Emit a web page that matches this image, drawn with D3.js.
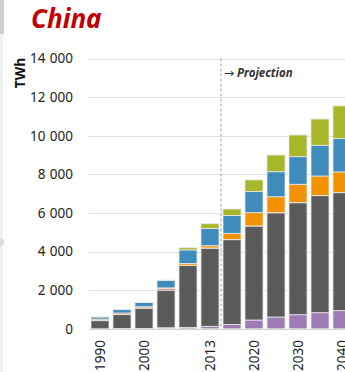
<!DOCTYPE html>
<html>
<head>
<meta charset="utf-8">
<script src="https://cdn.jsdelivr.net/npm/d3@7"></script>
<style>
  html, body { margin: 0; padding: 0; background: #fff; }
  svg { display: block; }
</style>
</head>
<body>
<svg id="chart" width="345" height="372"></svg>
<script>
const years = ["1990","1995","2000","2005","2010","2013","2015","2020","2025","2030","2035","2040"];
const tickLabels = ["1990","2000","2013","2020","2030","2040"];
const yTicks = [0, 2000, 4000, 6000, 8000, 10000, 12000, 14000];
const seriesNames = ["Nuclear","Coal","Oil","Gas","Hydro","Other renewables"];
const nuclear = [0, 13, 17, 53, 75, 130, 225, 455, 610, 730, 835, 940];
const coal    = [420, 720, 1050, 1950, 3200, 4050, 4390, 4870, 5400, 5800, 6060, 6110];
const oil     = [80, 85, 70, 90, 15, 7, 5, 5, 5, 5, 5, 5];
const gas     = [0, 0, 5, 25, 95, 115, 325, 685, 825, 950, 1015, 1070];
const hydro   = [110, 175, 215, 385, 700, 900, 930, 1090, 1295, 1430, 1590, 1725];
const otherRen= [10, 15, 15, 25, 110, 240, 330, 605, 865, 1125, 1360, 1695];
const colors  = ["#9e7bb5", "#5b5b5b", "#d07a5a", "#f39200", "#3f8bbb", "#a8b62a"];
const projectionAfter = "2013";

const svg = d3.select("#chart");
const FONT = "'Noto Sans', 'Open Sans', sans-serif";

// left edge decoration
svg.append("rect").attr("x", 0).attr("y", 0).attr("width", 3).attr("height", 372).attr("fill", "#f0f0f0");
svg.append("rect").attr("x", 0).attr("y", 0).attr("width", 4).attr("height", 34).attr("fill", "#cfcfcf");
svg.append("circle").attr("cx", 0).attr("cy", 242).attr("r", 4).attr("fill", "#dcdcdc");

const x = d3.scaleBand().domain(years).range([89, 89 + 22 * years.length]).paddingInner(0.18).paddingOuter(0.09);
const y = d3.scaleLinear().domain([0, 14000]).range([328.8, 58.5]);

// gridlines
svg.append("g").selectAll("line").data(yTicks).join("line")
  .attr("x1", 89).attr("x2", 345)
  .attr("y1", d => Math.round(y(d)) + 0.5).attr("y2", d => Math.round(y(d)) + 0.5)
  .attr("stroke", d => d === 0 ? "#d0d0d0" : "#e0e0e0").attr("stroke-width", 1);

// y axis labels
const yAxis = d3.axisLeft(y).tickValues(yTicks).tickSize(0).tickPadding(0)
  .tickFormat(d => d3.format(",")(d).replace(/,/g, "\u2009\u2009"));
const yg = svg.append("g").attr("transform", "translate(73,0)").call(yAxis);
yg.select(".domain").remove();
yg.selectAll("text").attr("font-family", FONT).attr("font-size", 13.5).attr("fill", "#222");

// stacked bars
const table = years.map((yr, i) => ({year: yr, Nuclear: nuclear[i], Coal: coal[i], Oil: oil[i], Gas: gas[i], Hydro: hydro[i], "Other renewables": otherRen[i]}));
const stacked = d3.stack().keys(seriesNames)(table);
svg.append("g").selectAll("g").data(stacked).join("g")
  .attr("fill", (d, i) => colors[i])
  .selectAll("rect").data(d => d).join("rect")
  .attr("x", d => x(d.data.year))
  .attr("width", x.bandwidth())
  .attr("y", d => y(d[1]))
  .attr("height", d => Math.max(0, y(d[0]) - y(d[1])))
  .attr("stroke", "#eaeaea").attr("stroke-width", 0.8);

// projection line
const px = x(projectionAfter) + x.bandwidth() + (x.step() - x.bandwidth()) / 2;
svg.append("line").attr("x1", px).attr("x2", px).attr("y1", y(14000)).attr("y2", y(0))
  .attr("stroke", "#a0a0a0").attr("stroke-width", 1).attr("stroke-dasharray", "3,2");
const pt = svg.append("text").attr("x", px + 3).attr("y", 77)
  .attr("font-family", FONT).attr("font-size", 11.5).attr("fill", "#333");
pt.append("tspan").attr("font-family", "'DejaVu Sans', sans-serif").attr("font-size", 12).text("\u2192");
pt.append("tspan").attr("dx", 3).attr("font-weight", "bold").attr("font-style", "italic").text("Projection");

// x axis labels
const xAxis = d3.axisBottom(x).tickValues(tickLabels).tickSize(0).tickPadding(0);
const xg = svg.append("g").attr("transform", "translate(0,340)").call(xAxis);
xg.select(".domain").remove();
xg.selectAll("text")
  .attr("font-family", FONT).attr("font-size", 13.5).attr("fill", "#222")
  .attr("transform", "rotate(-90)")
  .attr("x", 0).attr("y", 0).attr("dy", "0.35em")
  .attr("text-anchor", "end");

// title
svg.append("text").attr("x", 31).attr("y", 28)
  .attr("font-family", FONT).attr("font-size", 26).attr("font-weight", "bold").attr("font-style", "italic")
  .attr("fill", "#c00000").text("China");

// unit
svg.append("text").attr("transform", "translate(20,73) rotate(-90)")
  .attr("text-anchor", "middle").attr("dy", "0.35em")
  .attr("font-family", FONT).attr("font-size", 14).attr("font-weight", "bold").attr("fill", "#111")
  .text("TWh");
</script>
</body>
</html>
